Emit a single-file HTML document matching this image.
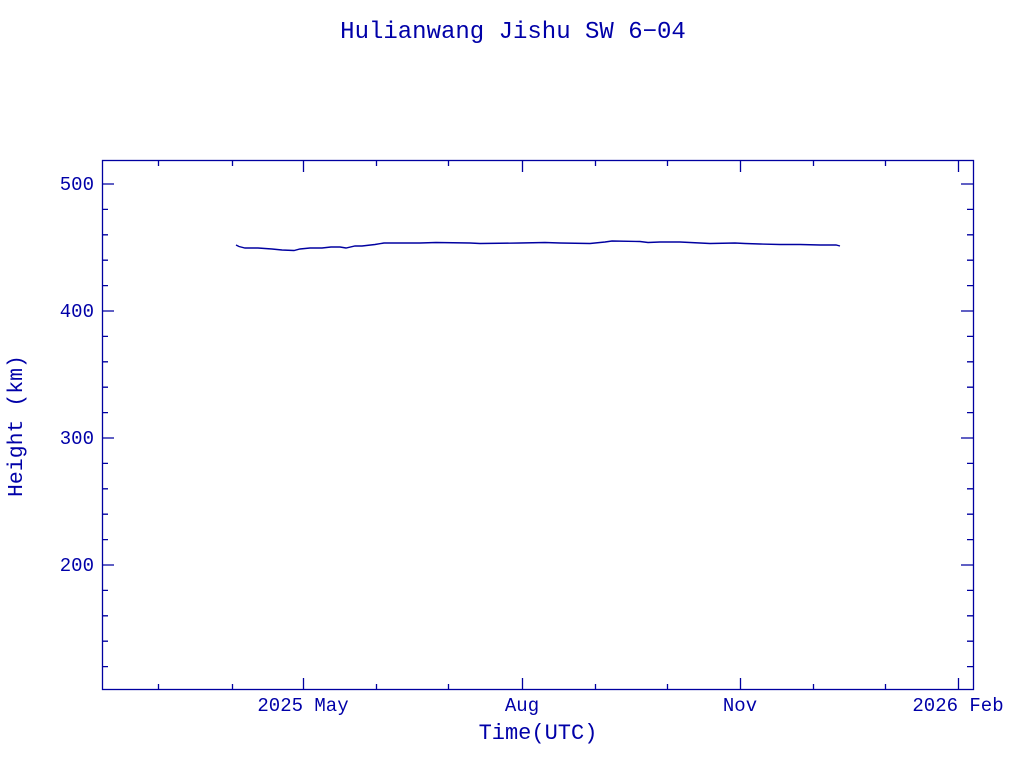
<!DOCTYPE html>
<html><head><meta charset="utf-8"><style>
body{margin:0;background:#fff;}
svg text{font-family:"Liberation Mono","DejaVu Sans Mono",monospace;fill:#0000a8;}
</style></head><body>
<svg width="1024" height="768" xmlns="http://www.w3.org/2000/svg">
<rect width="1024" height="768" fill="#fff"/>
<text x="513" y="38" font-size="24" text-anchor="middle">Hulianwang Jishu SW 6−04</text>
<g stroke="#0000a0" stroke-width="1.3" fill="none">
<rect x="102.5" y="160.5" width="871" height="529"/>
<path d="M102 184h12M102 311h12M102 438h12M102 565h12M973 184h-12M973 311h-12M973 438h-12M973 565h-12"/>
<path d="M102 209.4h6M102 234.8h6M102 260.2h6M102 285.6h6M102 336.4h6M102 361.8h6M102 387.2h6M102 412.6h6M102 463.4h6M102 488.8h6M102 514.2h6M102 539.6h6M102 590.4h6M102 615.8h6M102 641.2h6M102 666.6h6
M973 209.4h-6M973 234.8h-6M973 260.2h-6M973 285.6h-6M973 336.4h-6M973 361.8h-6M973 387.2h-6M973 412.6h-6M973 463.4h-6M973 488.8h-6M973 514.2h-6M973 539.6h-6M973 590.4h-6M973 615.8h-6M973 641.2h-6M973 666.6h-6"/>
<path d="M303.5 690v-12M522.5 690v-12M740.5 690v-12M958.5 690v-12M303.5 160v12M522.5 160v12M740.5 160v12M958.5 160v12"/>
<path d="M158.5 690v-6M232.5 690v-6M376.5 690v-6M448.5 690v-6M595.5 690v-6M667.5 690v-6M813.5 690v-6M885.5 690v-6
M158.5 160v6M232.5 160v6M376.5 160v6M448.5 160v6M595.5 160v6M667.5 160v6M813.5 160v6M885.5 160v6"/>
<polyline stroke-width="1.4" points="236,245 239,246.5 245,248 258,248 272,249 282,250 294,250.5 300,249 310,248 322,248 331,247 340,247 346,248 355,246 362,246 375,244.5 384,243 420,243 436,242.5 470,243 480,243.5 520,243 545,242.5 560,243 590,243.5 605,242 612,241 640,241.5 648,242.5 660,242 680,242 700,243 710,243.5 735,243 745,243.5 760,244 780,244.5 800,244.5 820,245 836,245 840,246"/>
</g>
<g font-size="19">
<text x="94" y="190" text-anchor="end">500</text>
<text x="94" y="317" text-anchor="end">400</text>
<text x="94" y="444" text-anchor="end">300</text>
<text x="94" y="571" text-anchor="end">200</text>
<text x="303" y="711" text-anchor="middle">2025 May</text>
<text x="522" y="711" text-anchor="middle">Aug</text>
<text x="740" y="711" text-anchor="middle">Nov</text>
<text x="958" y="711" text-anchor="middle">2026 Feb</text>
</g>
<text x="538" y="739" font-size="22" text-anchor="middle">Time(UTC)</text>
<text transform="translate(22,426) rotate(-90)" font-size="21.5" text-anchor="middle">Height (km)</text>
</svg>
</body></html>
